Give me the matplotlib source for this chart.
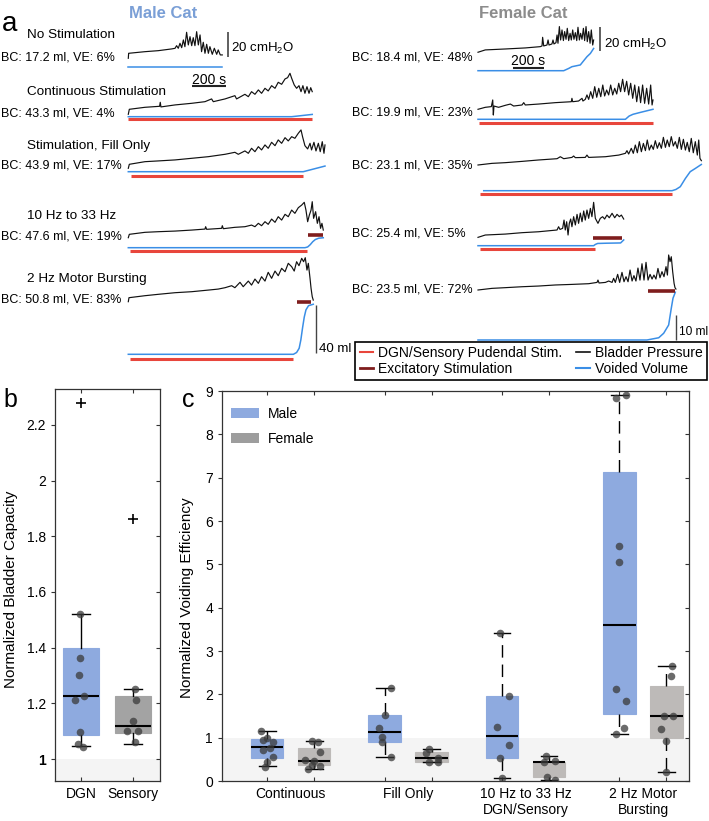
import matplotlib.pyplot as plt
from matplotlib.lines import Line2D
from matplotlib.patches import Patch

plt.rcParams['font.family'] = ['Liberation Sans', 'DejaVu Sans']
plt.rcParams['mathtext.fontset'] = 'custom'
plt.rcParams['mathtext.rm'] = 'Liberation Sans'
plt.rcParams['mathtext.it'] = 'Liberation Sans:italic'
plt.rcParams['mathtext.bf'] = 'Liberation Sans:bold'

# ---------------- panel a: cystometry traces (t in s, p in cmH2O, v in ml)
m1_t = [0, 2, 98, 176, 255, 275, 284, 294, 304, 314, 324, 333, 343, 353, 363, 373, 382, 392,
        402, 412, 422, 431, 441, 451, 461, 471, 480, 494, 506, 520, 529, 541, 553]
m1_p = [0, 4.0, 5.3, 6.1, 7.5, 8.0, 10.1, 8.0, 12.0, 8.5, 14.7, 9.3, 20.8, 10.7, 17.3, 10.1, 16.5, 10.1,
        21.3, 10.7, 18.7, 5.3, 12.8, 4.0, 11.2, 4.0, 9.3, 3.2, 8.0, 3.2, 6.7, 2.7, 2.7]
m1_vt = [0, 553]
m1_vv = [0, 0]

m2_t = [0, 6, 98, 184, 188, 192, 275, 373, 451, 490, 500, 569, 627, 637, 686, 706, 725, 745, 765, 784,
        804, 823, 843, 863, 882, 902, 922, 937, 951, 961, 976, 990, 1004, 1016, 1027, 1039, 1051, 1063, 1073, 1082]
m2_p = [0, 4.0, 5.6, 6.4, 9.6, 5.9, 7.5, 8.8, 10.1, 12.3, 10.1, 12.3, 14.9, 12.3, 16.0, 14.1, 18.1, 16.0, 19.5, 16.8,
        20.8, 18.7, 22.9, 20.8, 25.6, 24.0, 28.3, 29.3, 32.8, 28.8, 23.5, 20.8, 22.9, 18.1, 22.9, 16.8, 22.1, 16.8, 21.3, 18.1]
m2_vt = [0, 961, 1082]
m2_vv = [0, 0, 1.9]
m2_stim = (0, 1082)

m3_t = [0, 6, 98, 176, 275, 373, 471, 569, 627, 647, 686, 706, 725, 745, 765, 784, 804, 823, 843, 863,
        882, 902, 922, 941, 961, 980, 1000, 1016, 1025, 1039, 1055, 1069, 1078, 1092, 1104, 1118, 1129, 1141, 1151, 1157]
m3_p = [0, 3.2, 5.3, 5.9, 6.7, 8.0, 9.3, 11.2, 12.8, 11.2, 13.9, 12.0, 16.0, 13.3, 17.3, 14.7, 18.7, 16.0, 20.8, 18.1,
        22.7, 20.0, 24.5, 21.9, 25.3, 24.0, 28.0, 30.7, 25.3, 18.1, 15.5, 20.0, 14.7, 20.8, 13.9, 20.0, 13.3, 21.3, 12.0, 18.7]
m3_vt = [0, 1029, 1157]
m3_vv = [0, 0, 4.7]
m3_stim = (16, 1029)

m4_t = [0, 6, 98, 176, 275, 373, 451, 455, 461, 549, 553, 559, 627, 686, 725, 745, 765, 784, 804, 823,
        843, 863, 882, 902, 922, 941, 961, 980, 1000, 1020, 1035, 1045, 1055, 1065, 1075, 1082, 1090, 1102,
        1112, 1122, 1131, 1139, 1147]
m4_p = [0, 2.7, 4.3, 4.8, 5.3, 6.1, 6.9, 8.8, 6.7, 7.5, 9.6, 7.2, 8.3, 8.8, 10.1, 8.8, 11.5, 9.6, 12.8, 10.7,
        14.9, 12.3, 16.8, 14.1, 18.7, 16.8, 22.1, 19.5, 24.0, 26.1, 28.3, 22.1, 12.8, 18.1, 22.1, 28.8, 15.5, 20.8,
        11.5, 16.8, 7.5, 11.5, 6.1]
m4_vt = [0, 1039, 1055, 1070, 1085, 1100, 1120, 1147]
m4_vv = [0, 0, 0.6, 2.5, 5.0, 6.8, 7.9, 8.3]
m4_stim = (10, 1049)
m4_exc = (1055, 1147)

m5_t = [0, 4, 98, 176, 275, 373, 471, 529, 569, 608, 627, 657, 676, 706, 725, 745, 765, 784, 804, 823,
        843, 863, 882, 902, 922, 941, 961, 976, 990, 1004, 1020, 1031, 1041, 1051, 1059, 1069, 1075, 1082, 1088]
m5_p = [0, 3.2, 4.8, 5.9, 7.2, 8.0, 9.3, 10.1, 11.2, 12.8, 11.2, 15.5, 12.0, 16.5, 13.3, 18.1, 14.7, 20.0, 16.5, 23.5,
        18.7, 24.5, 20.8, 26.7, 24.0, 30.7, 28.0, 24.5, 32.0, 28.8, 34.7, 32.0, 35.2, 25.3, 30.7, 18.7, 10.7, 4.0, 1.3]
m5_vt = [0, 971, 990, 1005, 1015, 1025, 1035, 1045, 1060, 1088]
m5_vv = [0, 0, 1.5, 5, 12, 22, 31, 37, 40.5, 41.7]
m5_stim = (10, 967)
m5_exc = (990, 1075)

f1_t = [0, 47, 176, 305, 402, 413, 417, 424, 445, 452, 458, 477, 484, 490, 503, 510, 516, 525, 533, 542,
        551, 559, 568, 576, 585, 594, 602, 611, 619, 628, 637, 645, 654, 662, 671, 680, 688, 697, 705, 714,
        723, 731, 740, 746]
f1_p = [0.9, 2.9, 3.7, 4.6, 5.7, 6.3, 13.7, 6.3, 7.1, 11.4, 7.1, 8.0, 11.4, 8.0, 9.1, 15.7, 8.6, 22.9, 11.4, 20.0,
        10.9, 18.6, 12.0, 21.4, 10.9, 17.1, 11.4, 20.0, 12.0, 17.7, 10.9, 22.3, 11.4, 17.1, 12.0, 21.4, 10.9, 22.9, 10.0, 18.6,
        8.6, 20.0, 7.1, 11.4]
f1_vt = [0, 553, 585, 606, 660, 682, 703, 725, 746]
f1_vv = [0, 0, 0.9, 1.6, 2.3, 4.0, 5.6, 6.9, 8.9]

f2_t = [0, 47, 86, 95, 99, 103, 133, 176, 209, 230, 284, 295, 305, 391, 499, 602, 606, 611, 649, 671,
        677, 692, 703, 714, 727, 740, 753, 766, 779, 792, 805, 817, 830, 843, 856, 869, 882, 895, 908, 920,
        933, 946, 959, 972, 985, 998, 1011, 1024, 1037, 1049, 1062, 1075, 1088, 1101, 1114, 1123, 1129]
f2_p = [0.6, 2.3, 2.9, 8.6, -4.3, 3.4, 2.3, 4.0, 5.1, 3.4, 4.3, 6.3, 4.3, 5.1, 6.3, 7.1, 10.0, 7.1, 7.7, 10.0,
        7.7, 9.1, 12.9, 9.1, 15.7, 10.0, 20.0, 10.9, 18.6, 11.4, 21.4, 12.0, 17.1, 12.9, 21.4, 12.9, 18.6, 13.7, 22.9, 15.7,
        26.3, 15.7, 24.6, 12.9, 22.9, 10.0, 21.4, 7.1, 20.0, 6.3, 21.4, 5.7, 18.6, 5.1, 21.4, 4.3, 8.6]
f2_vt = [0, 951, 975, 1000, 1050, 1129]
f2_vv = [0, 0, 1.3, 2.0, 2.8, 4.0]
f2_stim = (9, 1129)

f3_t = [0, 90, 176, 284, 391, 510, 531, 553, 606, 617, 628, 692, 703, 714, 822, 908, 951, 961, 972, 989,
        1002, 1015, 1028, 1041, 1054, 1067, 1080, 1092, 1105, 1118, 1131, 1144, 1157, 1170, 1183, 1196, 1209,
        1221, 1234, 1247, 1260, 1273, 1286, 1299, 1312, 1325, 1338, 1350, 1363, 1376, 1389, 1402, 1415, 1424,
        1432, 1441]
f3_p = [0.6, 2.0, 2.6, 3.7, 4.9, 6.0, 7.7, 6.0, 7.1, 8.3, 6.9, 7.1, 9.1, 7.1, 7.7, 9.1, 10.6, 12.9, 10.0, 14.9,
        10.6, 17.7, 11.1, 20.6, 12.0, 19.1, 12.9, 22.0, 13.4, 17.7, 14.0, 21.4, 14.9, 19.7, 14.9, 24.3, 15.7,
        22.0, 16.3, 24.9, 16.9, 20.6, 14.9, 24.3, 14.0, 22.6, 13.4, 20.0, 12.0, 23.4, 11.1, 20.6, 9.1, 22.0,
        6.3, 4.3]
f3_vt = [37, 1252, 1277, 1305, 1338, 1369, 1402, 1441]
f3_vv = [0, 0, 0.5, 1.6, 4.9, 7.6, 8.9, 10.5]
f3_stim = (15, 1252)

f4_t = [0, 47, 176, 284, 391, 510, 520, 529, 546, 555, 563, 572, 581, 589, 598, 606, 617, 628, 639, 649,
        660, 671, 682, 692, 703, 714, 725, 735, 746, 757, 774, 789, 804, 817, 832, 847, 865, 882, 897, 912,
        925, 940]
f4_p = [0.3, 2.3, 3.1, 4.3, 5.1, 6.6, 9.4, 7.1, 8.0, 15.1, 6.6, 13.7, 2.3, 12.3, 16.0, 9.4, 18.0, 10.9, 20.0, 12.3,
        21.1, 13.7, 22.9, 15.1, 23.7, 16.6, 25.1, 18.0, 30.3, 16.6, 12.3, 16.6, 18.0, 16.0, 19.4, 17.1, 20.9, 17.1, 20.0, 18.0,
        19.4, 16.0]
f4_vt = [0, 746, 757, 772, 830, 920, 940]
f4_vv = [0, 0, 0.5, 0.9, 1.0, 1.1, 2.3]
f4_stim = (15, 753)
f4_exc = (740, 929)

f5_t = [0, 90, 176, 284, 391, 499, 606, 714, 768, 774, 781, 822, 843, 865, 875, 886, 901, 914, 929, 942,
        955, 968, 981, 994, 1006, 1019, 1032, 1045, 1058, 1071, 1084, 1097, 1110, 1123, 1135, 1148, 1161, 1174,
        1187, 1200, 1213, 1222, 1230, 1239, 1247, 1256, 1265, 1271, 1277]
f5_p = [0.6, 2.0, 2.6, 3.4, 4.0, 4.9, 5.4, 6.0, 7.1, 9.1, 6.6, 7.1, 8.3, 7.1, 10.6, 7.1, 14.0, 7.1, 15.7, 7.7,
        12.0, 7.7, 17.7, 8.3, 12.9, 8.3, 19.4, 9.1, 23.1, 9.1, 24.3, 9.1, 14.0, 10.0, 13.4, 10.0, 19.1, 11.1,
        16.3, 12.0, 20.6, 13.4, 30.6, 24.9, 29.1, 16.3, 6.3, 2.6, 1.4]
f5_vt = [0, 1090, 1166, 1198, 1230, 1247, 1258, 1273]
f5_vv = [0, 0, 0.9, 2.7, 6.0, 12.7, 16.7, 19.1]
f5_stim = (15, 1090)
f5_exc = (1094, 1273)

male_titles = ['No Stimulation', 'Continuous Stimulation', 'Stimulation, Fill Only',
               '10 Hz to 33 Hz', '2 Hz Motor Bursting']
male_bc = ['BC: 17.2 ml, VE: 6%', 'BC: 43.3 ml, VE: 4%', 'BC: 43.9 ml, VE: 17%',
           'BC: 47.6 ml, VE: 19%', 'BC: 50.8 ml, VE: 83%']
female_bc = ['BC: 18.4 ml, VE: 48%', 'BC: 19.9 ml, VE: 23%', 'BC: 23.1 ml, VE: 35%',
             'BC: 25.4 ml, VE: 5%', 'BC: 23.5 ml, VE: 72%']

# ---------------- panel b: normalized bladder capacity
b_groups = ['DGN', 'Sensory']
b_stats = [(1.045, 1.085, 1.225, 1.40, 1.52), (1.055, 1.093, 1.117, 1.228, 1.25)]
b_fliers = [[2.278], [1.862]]
b_dots = [[1.52, 1.362, 1.30, 1.226, 1.212, 1.097, 1.053, 1.043],
          [1.25, 1.211, 1.138, 1.102, 1.102, 1.06]]
b_jitter = [[-0.02, -0.01, -0.03, 0.06, -0.11, -0.01, -0.06, 0.04],
            [0.04, 0.06, 0.0, -0.12, 0.09, 0.04]]

# ---------------- panel c: normalized voiding efficiency (male, female per group)
c_groups = ['Continuous', 'Fill Only', '10 Hz to 33 Hz\nDGN/Sensory', '2 Hz Motor\nBursting']
c_stats = [(0.338, 0.523, 0.785, 0.969, 1.154), (0.277, 0.369, 0.462, 0.769, 0.923),
           (0.562, 0.908, 1.131, 1.523, 2.154), (0.431, 0.431, 0.538, 0.662, 0.731),
           (0.077, 0.523, 1.046, 1.962, 3.408), (0.023, 0.092, 0.431, 0.446, 0.585),
           (1.077, 1.546, 3.592, 7.123, 8.908), (0.20, 1.0, 1.5, 2.192, 2.654)]
c_dots = [[1.154, 0.985, 0.946, 0.892, 0.754, 0.715, 0.562, 0.446, 0.331],
          [0.92, 0.89, 0.66, 0.48, 0.46, 0.37, 0.35, 0.28],
          [2.15, 1.52, 1.23, 1.02, 0.91, 0.56],
          [0.73, 0.64, 0.54, 0.43, 0.43],
          [3.41, 1.96, 1.25, 0.82, 0.52, 0.08],
          [0.58, 0.45, 0.46, 0.10, 0.02],
          [8.85, 8.91, 5.42, 5.05, 2.12, 1.85, 1.23, 1.08],
          [2.65, 2.42, 1.5, 1.5, 1.2, 0.92, 0.2]]
c_jitter = [[-0.12, 0.0, -0.085, 0.13, 0.06, -0.085, 0.13, 0.0, -0.05],
            [-0.05, 0.09, 0.13, -0.19, -0.01, -0.05, 0.13, -0.12],
            [0.13, 0.0, -0.12, -0.05, -0.05, 0.13],
            [-0.05, -0.12, 0.13, -0.05, 0.13],
            [-0.05, 0.14, -0.1, 0.14, -0.05, 0.0],
            [-0.07, -0.11, 0.12, -0.04, 0.12],
            [-0.07, 0.13, 0.0, 0.0, -0.07, 0.13, 0.09, -0.07],
            [0.12, 0.09, -0.05, 0.14, -0.11, 0.0, 0.0]]

# colours
c_press, c_vol, c_stim, c_exc = '#111111', '#3a8ee6', '#e8463c', '#7f1d1d'
c_male, c_female_b, c_female_c, c_female_leg = '#8eaadf', '#a3a3a3', '#bdbab8', '#9d9d9d'
c_dot = '#3a3a3a'

W, H = 709, 821
fig = plt.figure(figsize=(W / 100, H / 100), dpi=100)


def label(x, y, s, **kw):
    kw.setdefault('va', 'center')
    return fig.text(x / W, 1 - y / H, s, **kw)


def overlay(x0, y0, px_x, px_y):
    # full-figure axes whose data units map onto the pixel grid of the figure
    ax = fig.add_axes([0, 0, 1, 1])
    ax.set_xlim(-x0 / px_x, (W - x0) / px_x)
    ax.set_ylim((y0 - H) / px_y, y0 / px_y)
    ax.axis('off')
    return ax


def draw_row(col, yp0, yv0, t, p, vt, vv, stim=None, ystim=None, exc=None, yexc=None):
    x0, px_s, px_cm, px_ml = col
    axp = overlay(x0, yp0, px_s, px_cm)
    axp.plot(t, p, color=c_press, lw=0.85)
    axv = overlay(x0, yv0, px_s, px_ml)
    axv.plot(vt, vv, color=c_vol, lw=1.1)
    if stim is not None:
        axv.hlines((yv0 - ystim) / px_ml, *stim, color=c_stim, lw=2.2)
    if exc is not None:
        axv.hlines((yv0 - yexc) / px_ml, *exc, color=c_exc, lw=2.6)
    return axp, axv


male_col = (128.3, 0.17, 1.25, 1.2)
female_col = (478.0, 0.155, 1.167, 2.5)

ma1, mv1 = draw_row(male_col, 58.3, 66.7, m1_t, m1_p, m1_vt, m1_vv)
draw_row(male_col, 114.3, 116.7, m2_t, m2_p, m2_vt, m2_vv, m2_stim, 119.3)
draw_row(male_col, 168.3, 171.7, m3_t, m3_p, m3_vt, m3_vv, m3_stim, 175.7)
draw_row(male_col, 237.7, 247.7, m4_t, m4_p, m4_vt, m4_vv, m4_stim, 251.0, m4_exc, 235.3)
ma5, mv5 = draw_row(male_col, 301.7, 354.3, m5_t, m5_p, m5_vt, m5_vv, m5_stim, 359.0, m5_exc, 302.3)

fa1, fv1 = draw_row(female_col, 53.3, 70.7, f1_t, f1_p, f1_vt, f1_vv)
draw_row(female_col, 110.0, 119.3, f2_t, f2_p, f2_vt, f2_vv, f2_stim, 123.3)
draw_row(female_col, 165.7, 190.7, f3_t, f3_p, f3_vt, f3_vv, f3_stim, 194.3)
draw_row(female_col, 237.7, 245.7, f4_t, f4_p, f4_vt, f4_vv, f4_stim, 249.0, f4_exc, 237.7)
fa5, fv5 = draw_row(female_col, 290.7, 340.0, f5_t, f5_p, f5_vt, f5_vv, f5_stim, 342.7, f5_exc, 290.7)

# scale bars
ma1.vlines(585, 1.3, 21.3, color='#444444', lw=1.2)
ma1.hlines(-22.2, 376, 576, color='#222222', lw=1.5)
fa1.vlines(785, 2.2, 22.2, color='#444444', lw=1.2)
fa1.hlines(-12.9, 224, 424, color='#222222', lw=1.5)
mv5.vlines(1104, 0.8, 40.8, color='#444444', lw=1.0)
fv5.vlines(1277, 0, 10, color='#444444', lw=1.0)

label(231, 48, r'20 cmH$_2$O', fontsize=9.5)
label(604, 44, r'20 cmH$_2$O', fontsize=9.5)
label(209, 80, '200 s', fontsize=10, ha='center')
label(528, 61, '200 s', fontsize=10, ha='center')
label(319, 349, '40 ml', fontsize=9.5)
label(679, 332, '10 ml', fontsize=8.6)

label(2, 24, 'a', fontsize=20)
label(163, 13, 'Male Cat', fontsize=12, fontweight='bold', color='#7a9fd6', ha='center')
label(523, 13, 'Female Cat', fontsize=12, fontweight='bold', color='#8c8c8c', ha='center')

male_title_y = [35, 92, 146, 216, 279]
male_bc_y = [58, 113, 165, 236, 300]
female_bc_y = [57, 112, 165, 234, 289]
for s, y in zip(male_titles, male_title_y):
    label(27, y, s, fontsize=9.7)
for s, y in zip(male_bc, male_bc_y):
    label(1, y, s, fontsize=9)
for s, y in zip(female_bc, female_bc_y):
    label(352, y, s, fontsize=9)

handles = [Line2D([], [], color=c_stim, lw=1.5), Line2D([], [], color=c_exc, lw=2),
           Line2D([], [], color=c_press, lw=1.2), Line2D([], [], color=c_vol, lw=1.5)]
names = ['DGN/Sensory Pudendal Stim.', 'Excitatory Stimulation', 'Bladder Pressure', 'Voided Volume']
leg = fig.legend(handles, names, ncol=2, loc='upper right', bbox_to_anchor=(707 / W, 1 - 342 / H),
                 fontsize=10, frameon=True, fancybox=False, edgecolor='black', framealpha=1,
                 handlelength=1.0, handletextpad=0.35, columnspacing=1.0, borderpad=0.3,
                 labelspacing=0.15, borderaxespad=0)
leg.get_frame().set_linewidth(1.2)


# ---------------- helpers for b and c
def style_axes(ax):
    for sp in ax.spines.values():
        sp.set_color('#333333')
        sp.set_linewidth(0.9)
    ax.tick_params(axis='y', direction='out', length=3, labelsize=10, color='#333333')
    ax.tick_params(axis='x', direction='in', length=3, labelsize=10, color='#333333', pad=4)
    right = ax.secondary_yaxis('right')
    right.set_yticks(ax.get_yticks())
    right.tick_params(direction='in', length=3, labelright=False, color='#333333')
    top = ax.secondary_xaxis('top')
    top.set_xticks(ax.get_xticks())
    top.tick_params(direction='in', length=3, labeltop=False, color='#333333')
    for s in (right, top):
        s.spines[:].set_visible(False)


def boxes(ax, stats, positions, colors, whisker_ls, fliers=None):
    bs = []
    for i, (lo, q1, med, q3, hi) in enumerate(stats):
        bs.append(dict(whislo=lo, q1=q1, med=med, q3=q3, whishi=hi,
                       fliers=fliers[i] if fliers else []))
    art = ax.bxp(bs, positions=positions, widths=0.69, capwidths=0.36, patch_artist=True,
                 manage_ticks=False,
                 boxprops=dict(linewidth=0.8),
                 medianprops=dict(color='black', lw=1.5, zorder=3),
                 whiskerprops=dict(color='black', lw=1.0, ls=whisker_ls),
                 capprops=dict(color='black', lw=1.0),
                 flierprops=dict(marker='+', markeredgecolor='black', markersize=7, markeredgewidth=1.2))
    for patch, c in zip(art['boxes'], colors):
        patch.set_facecolor(c)
        patch.set_edgecolor(c)
        patch.set_zorder(2)


# ---------------- panel b
axb = fig.add_axes([55 / W, 1 - 781 / H, 105 / W, 392 / H])
axb.set_xlim(0.5, 2.52)
axb.set_ylim(0.921, 2.329)
axb.axhspan(0.9, 1.0, color='#f4f4f4', zorder=0, lw=0)
b_pos = [1, 2]
boxes(axb, b_stats, b_pos, [c_male, c_female_b], '-', b_fliers)
for x, vals, jit in zip(b_pos, b_dots, b_jitter):
    axb.scatter([x + j for j in jit], vals, s=30, color=c_dot, alpha=0.75, lw=0, zorder=4)
axb.set_xticks(b_pos, b_groups)
axb.set_yticks([1, 1.2, 1.4, 1.6, 1.8, 2.0, 2.2], ['1', '1.2', '1.4', '1.6', '1.8', '2', '2.2'])
axb.get_yticklabels()[0].set_fontweight('bold')
axb.get_yticklabels()[0].set_fontsize(12)
axb.set_ylabel('Normalized Bladder Capacity', fontsize=11)
axb.yaxis.set_label_coords(-0.35, 0.49)
style_axes(axb)
label(3, 400, 'b', fontsize=18)

# ---------------- panel c
axc = fig.add_axes([222 / W, 1 - 781 / H, 467 / W, 390 / H])
axc.set_xlim(-0.96, 8.98)
axc.set_ylim(0, 9)
axc.axhspan(0, 1.0, color='#f4f4f4', zorder=0, lw=0)
c_pos = [0, 1, 2.5, 3.5, 5, 6, 7.5, 8.5]
boxes(axc, c_stats, c_pos, [c_male, c_female_c] * 4, (0, (9, 5)))
for x, vals, jit in zip(c_pos, c_dots, c_jitter):
    axc.scatter([x + j for j in jit], vals, s=30, color=c_dot, alpha=0.75, lw=0, zorder=4)
axc.set_xticks(c_pos, [''] * len(c_pos))
axc.set_xticks([0.5, 3.0, 5.5, 8.0], c_groups, minor=True)
axc.tick_params(axis='x', which='minor', length=0, labelsize=10, pad=4)
axc.set_yticks(range(10))
axc.set_ylabel('Normalized Voiding Efficiency', fontsize=11)
axc.yaxis.set_label_coords(-0.06, 0.47)
style_axes(axc)
axc.legend([Patch(facecolor=c_male), Patch(facecolor=c_female_leg)], ['Male', 'Female'],
           loc='upper left', bbox_to_anchor=(0.02, 0.96), frameon=False, fontsize=10,
           handlelength=2.0, handleheight=0.75, labelspacing=0.8, handletextpad=0.6,
           borderaxespad=0, borderpad=0)
label(182, 400, 'c', fontsize=18)

fig.savefig('out.png', dpi=100)
